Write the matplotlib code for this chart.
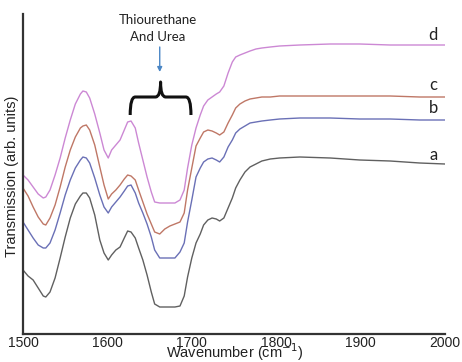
import matplotlib
matplotlib.use("Agg")
import matplotlib.pyplot as plt
from matplotlib.path import Path
from matplotlib.patches import PathPatch

wavenumber = [1500, 1506, 1512, 1518, 1524, 1527, 1532, 1538, 1544, 1550,
              1556, 1562, 1568, 1571, 1575, 1579, 1585, 1591, 1596, 1601,
              1605, 1610, 1615, 1620, 1624, 1628, 1633, 1637, 1642, 1647,
              1652, 1656, 1662, 1668, 1674, 1680, 1686, 1691, 1695, 1700,
              1705, 1710, 1714, 1719, 1724, 1729, 1733, 1738, 1743, 1748,
              1752, 1757, 1763, 1769, 1776, 1783, 1793, 1804, 1828, 1864,
              1899, 1935, 1970, 2000]

trans_a = [64, 58, 54, 46, 38, 37, 42, 56, 76, 97, 116, 130, 138, 141, 141, 136, 119, 94, 81, 74,
           79, 84, 87, 96, 103, 102, 96, 86, 74, 59, 42, 30, 27, 27, 27, 27, 28, 38, 57, 76,
           91, 100, 109, 114, 116, 115, 113, 116, 126, 136, 146, 154, 162, 167, 170, 173, 175, 176, 177, 176,
           174, 173, 171, 170]
trans_b = [112, 104, 96, 89, 86, 86, 91, 104, 121, 139, 154, 166, 174, 177, 176, 171, 156, 139, 127, 121,
           127, 132, 137, 143, 148, 149, 141, 131, 121, 110, 97, 84, 76, 76, 76, 76, 82, 91, 112, 134,
           157, 166, 172, 175, 176, 174, 172, 177, 187, 194, 201, 205, 208, 211, 212, 213, 214, 215, 216, 216,
           215, 215, 214, 214]
trans_c = [146, 138, 127, 117, 110, 109, 116, 129, 147, 167, 184, 197, 206, 208, 209, 204, 189, 167, 149, 135,
           140, 144, 149, 155, 159, 158, 154, 144, 132, 120, 110, 102, 100, 105, 108, 110, 112, 121, 144, 166,
           188, 196, 202, 204, 203, 201, 199, 202, 211, 219, 226, 230, 233, 235, 236, 237, 237, 238, 238, 238,
           238, 238, 237, 237]
trans_d = [159, 154, 147, 140, 136, 137, 144, 159, 176, 196, 214, 230, 240, 243, 242, 236, 220, 201, 184, 176,
           184, 189, 194, 204, 212, 213, 206, 191, 174, 157, 142, 132, 131, 131, 131, 131, 134, 144, 166, 189,
           206, 219, 228, 234, 237, 240, 242, 248, 261, 272, 277, 279, 281, 283, 285, 286, 287, 288, 289, 290,
           290, 289, 289, 289]

series = [("a", trans_a, "#606060"), ("b", trans_b, "#6a70b6"),
          ("c", trans_c, "#bf7766"), ("d", trans_d, "#cc88d4")]
label_pos = {"a": 179, "b": 226, "c": 249, "d": 299}

fig = plt.figure(figsize=(4.62, 3.62), dpi=100)
ax = fig.add_axes([23/462, 28/362, 422/462, 320/362])

for name, vals, col in series:
    ax.plot(wavenumber, vals, color=col, lw=1.0, solid_joinstyle="round")
    ax.text(1986, label_pos[name], name, ha="center", va="center",
            fontsize=12, family="Lato", color="#222222")

ax.set_xlim(1500, 2000)
ax.set_ylim(0, 320)
ax.set_xticks([1500, 1600, 1700, 1800, 1900, 2000])
ax.set_yticks([])
ax.tick_params(axis="x", length=0, pad=1.5, labelsize=10, colors="#222222")
for lab in ax.get_xticklabels():
    lab.set_family("Liberation Sans")
for s in ["top", "right"]:
    ax.spines[s].set_visible(False)
for s in ["left", "bottom"]:
    ax.spines[s].set_linewidth(1.6)
    ax.spines[s].set_color("#333333")

fig.text(235/462, 1 - 352/362, "Wavenumber (cm$^{-1}$)", ha="center", va="center",
         fontsize=10.5, family="Liberation Sans", color="#222222")
fig.text(12/462, 1 - 176/362, "Transmission (arb. units)", ha="center", va="center",
         rotation=90, fontsize=10.5, family="Liberation Sans", color="#222222")

# annotation
ax.text(1660, 314, "Thiourethane", ha="center", va="center", fontsize=9.5,
        family="Lato", color="#222222")
ax.text(1660, 297, "And Urea", ha="center", va="center", fontsize=9.5,
        family="Lato", color="#222222")
ax.annotate("", xy=(1662, 262), xytext=(1662, 287),
            arrowprops=dict(arrowstyle="-|>", color="#4a86c5", lw=1.0,
                            mutation_scale=7, shrinkA=0, shrinkB=0))

x0, x1, xc = 1627, 1699, 1663
yb, yh, yt = 219, 237, 252
r = 6
verts = [(x0, yb), (x0, yh), (x0 + r, yh),
         (xc - r, yh), (xc, yh), (xc, yt),
         (xc, yh), (xc + r, yh),
         (x1 - r, yh), (x1, yh), (x1, yb)]
codes = [Path.MOVETO, Path.CURVE3, Path.CURVE3,
         Path.LINETO, Path.CURVE3, Path.CURVE3,
         Path.CURVE3, Path.CURVE3,
         Path.LINETO, Path.CURVE3, Path.CURVE3]
ax.add_patch(PathPatch(Path(verts, codes), fill=False, lw=2.2, color="#111111",
                       capstyle="butt", joinstyle="round"))

fig.savefig("out.png", dpi=100)
